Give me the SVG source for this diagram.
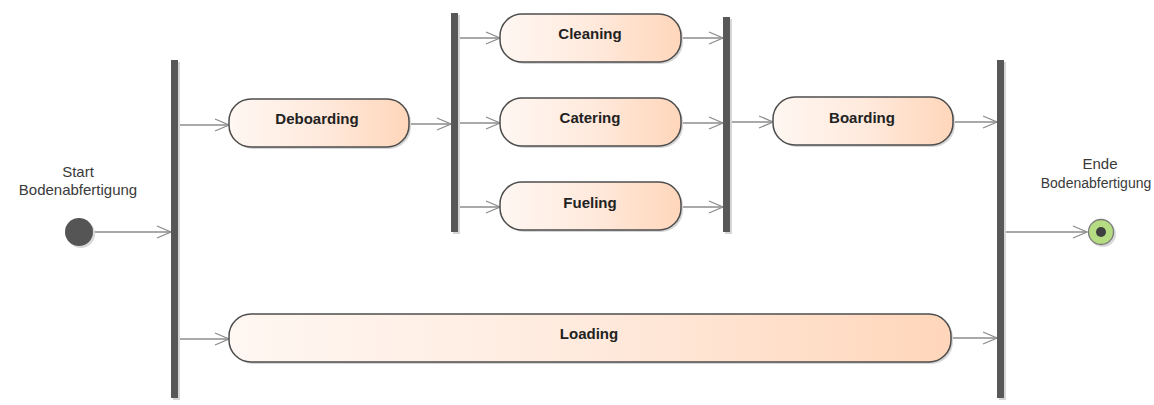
<svg xmlns="http://www.w3.org/2000/svg" width="1154" height="405" viewBox="0 0 1154 405">
  <style>
    .node rect.body { stroke: #4d4d4d; stroke-width: 1.5; fill: url(#actGrad); }
    .shadow { fill: #d6d6d6; }
    .bar { fill: #585858; }
    .label { font-family: "Liberation Sans", Arial, sans-serif; font-size: 15px; font-weight: bold; fill: #222; text-anchor: middle; }
    .caption { font-family: "Liberation Sans", Arial, sans-serif; font-size: 15px; fill: #3a3a3a; text-anchor: middle; }
    .flow { stroke: #8c8c8c; stroke-width: 1.3; fill: none; marker-end: url(#openArrow); }
  </style>
  <defs>
    <linearGradient id="actGrad" x1="0" y1="0" x2="1" y2="0">
      <stop offset="0" stop-color="#fff7f2"/>
      <stop offset="0.5" stop-color="#ffeadd"/>
      <stop offset="1" stop-color="#ffd6ba"/>
    </linearGradient>
    <marker id="openArrow" markerWidth="16" markerHeight="14" refX="15" refY="7" orient="auto" markerUnits="userSpaceOnUse">
      <path d="M1,1 L15,7 L1,13" fill="none" stroke="#8c8c8c" stroke-width="1.3"/>
    </marker>
  </defs>

  <rect width="1154" height="405" fill="#ffffff"/>

  <!-- connectors -->
  <g id="connectors">
    <line class="flow" x1="92" y1="232" x2="171" y2="232"/>
    <line class="flow" x1="178" y1="125" x2="229" y2="125"/>
    <line class="flow" x1="178" y1="339" x2="229" y2="339"/>
    <line class="flow" x1="409" y1="124" x2="451" y2="124"/>
    <line class="flow" x1="458" y1="38" x2="500" y2="38"/>
    <line class="flow" x1="458" y1="123" x2="500" y2="123"/>
    <line class="flow" x1="458" y1="207" x2="500" y2="207"/>
    <line class="flow" x1="681" y1="38" x2="723" y2="38"/>
    <line class="flow" x1="681" y1="123" x2="723" y2="123"/>
    <line class="flow" x1="681" y1="207" x2="723" y2="207"/>
    <line class="flow" x1="730" y1="122" x2="773" y2="122"/>
    <line class="flow" x1="953" y1="122" x2="997" y2="122"/>
    <line class="flow" x1="953" y1="338" x2="997" y2="338"/>
    <line class="flow" x1="1004" y1="232" x2="1087" y2="232"/>
  </g>

  <!-- initial node -->
  <g id="start">
    <circle cx="81" cy="234" r="14" fill="#d9d9d9"/>
    <circle cx="79" cy="232" r="14" fill="#555555"/>
    <text class="caption" x="78" y="177">Start</text>
    <text class="caption" x="78" y="195">Bodenabfertigung</text>
  </g>

  <!-- fork / join bars -->
  <g id="fork1">
    <rect class="shadow" x="173" y="62" width="7" height="338"/>
    <rect class="bar" x="171" y="60" width="7" height="338"/>
  </g>
  <g id="fork2">
    <rect class="shadow" x="453" y="15" width="7" height="219"/>
    <rect class="bar" x="451" y="13" width="7" height="219"/>
  </g>
  <g id="join1">
    <rect class="shadow" x="725" y="19" width="7" height="215"/>
    <rect class="bar" x="723" y="17" width="7" height="215"/>
  </g>
  <g id="join2">
    <rect class="shadow" x="999" y="62" width="7" height="338"/>
    <rect class="bar" x="997" y="60" width="7" height="338"/>
  </g>

  <!-- actions -->
  <g id="deboarding" class="node">
    <rect class="shadow" x="231" y="101" width="180" height="48" rx="22"/>
    <rect class="body" x="229" y="99" width="180" height="48" rx="22"/>
    <text class="label" x="317" y="124">Deboarding</text>
  </g>
  <g id="cleaning" class="node">
    <rect class="shadow" x="502" y="16" width="181" height="48" rx="22"/>
    <rect class="body" x="500" y="14" width="181" height="48" rx="22"/>
    <text class="label" x="590" y="39">Cleaning</text>
  </g>
  <g id="catering" class="node">
    <rect class="shadow" x="502" y="100" width="181" height="48" rx="22"/>
    <rect class="body" x="500" y="98" width="181" height="48" rx="22"/>
    <text class="label" x="590" y="123">Catering</text>
  </g>
  <g id="fueling" class="node">
    <rect class="shadow" x="502" y="184" width="181" height="48" rx="22"/>
    <rect class="body" x="500" y="182" width="181" height="48" rx="22"/>
    <text class="label" x="590" y="208">Fueling</text>
  </g>
  <g id="boarding" class="node">
    <rect class="shadow" x="775" y="99" width="180" height="48" rx="22"/>
    <rect class="body" x="773" y="97" width="180" height="48" rx="22"/>
    <text class="label" x="862" y="123">Boarding</text>
  </g>
  <g id="loading" class="node">
    <rect class="shadow" x="231" y="316" width="722" height="48" rx="22"/>
    <rect class="body" x="229" y="314" width="722" height="48" rx="22"/>
    <text class="label" x="589" y="339">Loading</text>
  </g>

  <!-- final node -->
  <g id="end">
    <circle cx="1103" cy="234" r="13" fill="#d9d9d9"/>
    <circle cx="1101" cy="232" r="12.5" fill="#b5dc82" stroke="#7a7a7a" stroke-width="1.3"/>
    <circle cx="1101" cy="232" r="5" fill="#3f3f3f"/>
    <text class="caption" x="1100" y="169">Ende</text>
    <text class="caption" x="1096" y="188" style="font-size:14px">Bodenabfertigung</text>
  </g>
</svg>
